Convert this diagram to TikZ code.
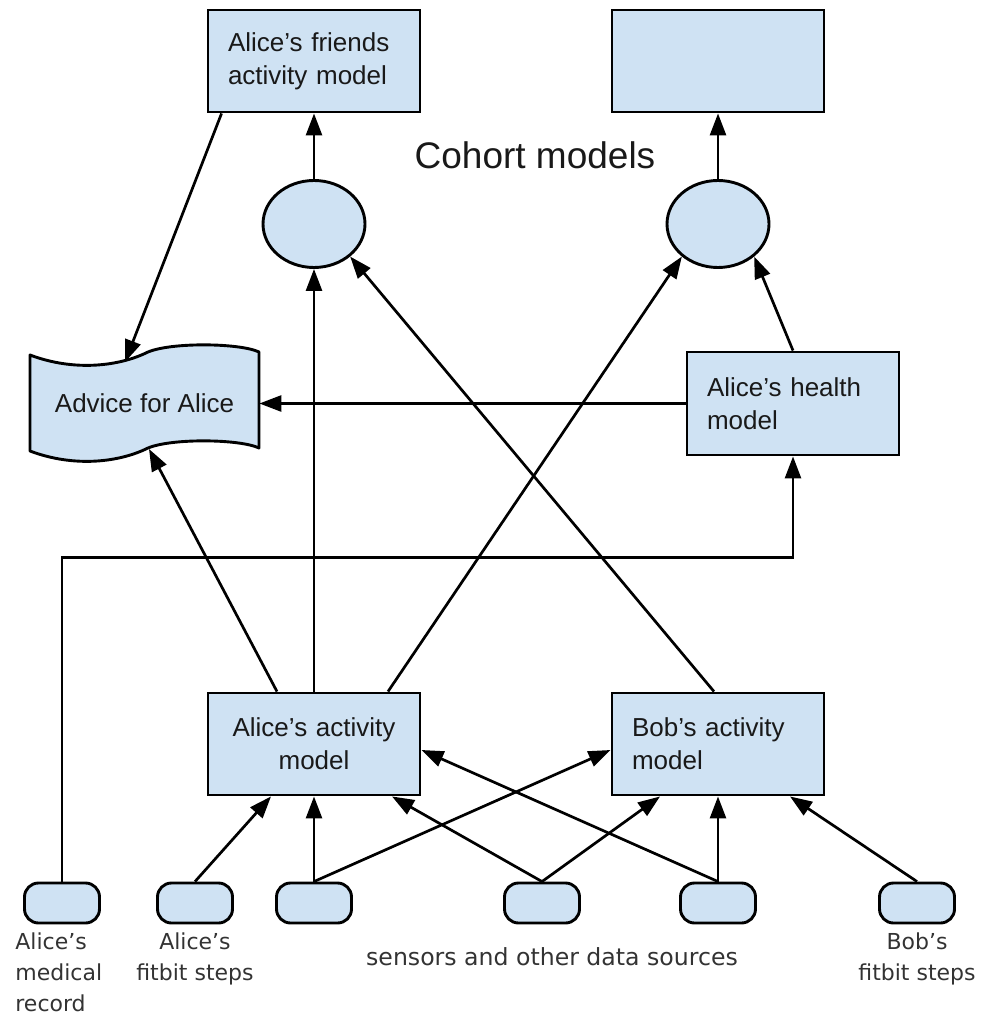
\documentclass[tikz,border=0pt]{standalone}
\usepackage{fontspec}
\setmainfont{Liberation Sans}
\newfontfamily\notefont{DejaVu Sans}
\usepackage{xcolor}
\usetikzlibrary{arrows.meta,shapes.geometric}
\definecolor{boxblue}{HTML}{CFE2F3}
\tikzset{
  model/.style={draw=black,line width=1.45pt,fill=boxblue,minimum width=106pt,minimum height=51pt,
    text width=86pt,inner xsep=10pt,font=\fontsize{13}{16.5}\selectfont,text=black!90},
  cohort/.style={ellipse,draw=black,line width=1.45pt,fill=boxblue,minimum width=51pt,minimum height=43.5pt,inner sep=0pt},
  source/.style={draw=black,line width=1.45pt,fill=boxblue,rounded corners=7pt,minimum width=37.5pt,minimum height=20pt,inner sep=0pt},
  note/.style={font=\notefont\fontsize{11}{15.5}\selectfont,inner sep=0pt,text=black!80},
  flow/.style={-{Triangle[length=11pt,width=8pt]},line width=1.35pt},
}

\begin{document}
\begin{tikzpicture}[x=0.5pt,y=-0.5pt]
\useasboundingbox (0,0) rectangle (981,1015);

\node[model,align=left] (friends) at (314,61) {Alice’s friends\\activity model};
\node[model] (cohortbox) at (718,61) {};
\node[font=\fontsize{18.5}{22}\selectfont,text=black!90] (cohortlabel) at (535,155) {Cohort models};
\node[cohort] (alicecoh) at (314,224) {};
\node[cohort] (cohortcoh) at (718,224) {};

\filldraw[fill=boxblue,line width=1.45pt,line join=round]
  (30,355) .. controls (75,372) and (120,366) .. (148,352)
  .. controls (172,342) and (240,343) .. (259,352) -- (259,448)
  .. controls (240,439) and (172,438) .. (148,448)
  .. controls (120,462) and (75,468) .. (30,451) -- cycle;
\node[minimum width=114.5pt,minimum height=48pt,font=\fontsize{13}{16.5}\selectfont,text=black!90] (advice) at (144.5,403.5) {Advice for Alice};
\coordinate (advicetop) at (125,362);
\coordinate (advicebottom) at (149,449);

\node[model,align=left,minimum height=51.5pt] (health) at (793,403.5) {Alice’s health\\model};
\node[model,align=center] (aliceact) at (314,744) {Alice’s activity\\model};
\node[model,align=left] (bobact) at (718,744) {Bob’s activity\\model};

\foreach \name/\x in {medical/62,alicefit/195,sensora/314,sensorb/542,sensorc/718,bobfit/917}
  \node[source] (\name) at (\x,903) {};

\node[note,anchor=north west,align=left] (medicallabel) at (15,932) {Alice’s\\medical\\record};
\node[note,anchor=north,align=center] (alicefitlabel) at (195,932) {Alice’s\\fitbit steps};
\node[note,anchor=north,font=\notefont\fontsize{11.8}{15}\selectfont] (sensorlabel) at (552,947) {sensors and other data sources};
\node[note,anchor=north,align=center] (bobfitlabel) at (917,932) {Bob’s\\fitbit steps};

\draw[flow] ([xshift=7.5pt]friends.south west) -- (advicetop);
\draw[flow] (alicecoh.north) -- (friends.south);
\draw[flow] (cohortcoh.north) -- (cohortbox.south);
\draw[flow] (aliceact.north) -- (alicecoh.south);
\draw[flow] ([xshift=-2pt]bobact.north) -- (alicecoh.-42);
\draw[flow] ([xshift=37pt]aliceact.north) -- (cohortcoh.-138);
\draw[flow] (health.north) -- (cohortcoh.-42);
\draw[flow] (health.west) -- (advice.east);
\draw[flow] ([xshift=-18.5pt]aliceact.north) -- (advicebottom);
\draw[flow] (medical.north) -- ++(0,-324) -| (health.south);

\draw[flow] (alicefit.north) -- ([xshift=-21.5pt]aliceact.south);
\draw[flow] (sensora.north) -- (aliceact.south);
\draw[flow] (sensora.north) -- ([yshift=-3pt]bobact.west);
\draw[flow] (sensorb.north) -- ([xshift=39pt]aliceact.south);
\draw[flow] (sensorb.north) -- ([xshift=-29pt]bobact.south);
\draw[flow] (sensorc.north) -- ([yshift=-3pt]aliceact.east);
\draw[flow] (sensorc.north) -- (bobact.south);
\draw[flow] (bobfit.north) -- ([xshift=36pt]bobact.south);
\end{tikzpicture}
\end{document}
